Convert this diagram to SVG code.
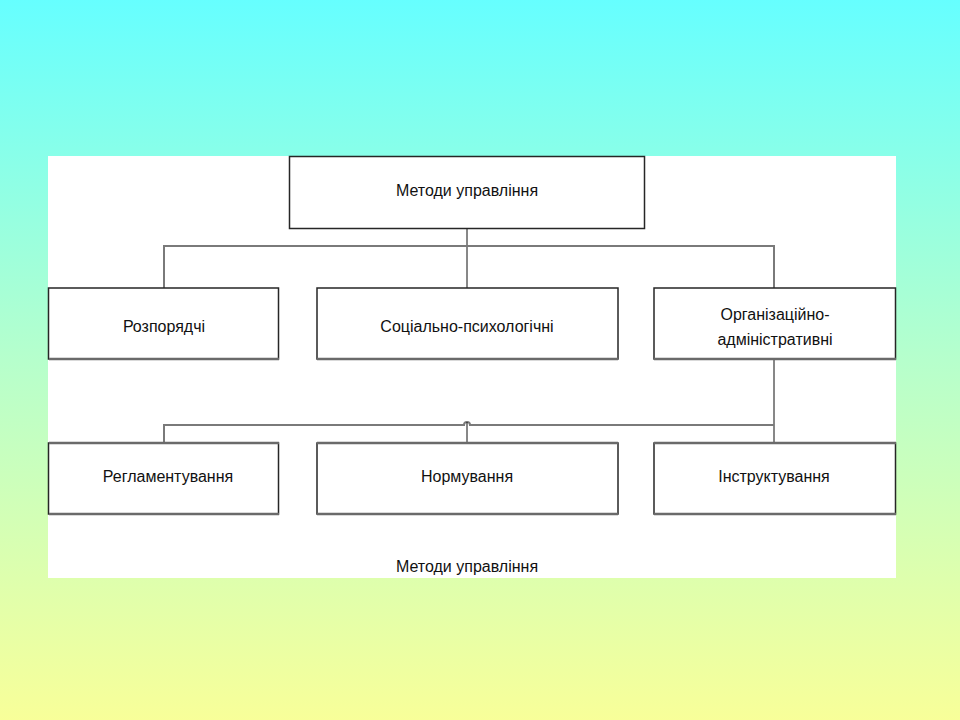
<svg xmlns="http://www.w3.org/2000/svg" width="960" height="720" viewBox="0 0 960 720">
<defs>
<linearGradient id="bg" x1="0" y1="0" x2="0" y2="1">
<stop offset="0" stop-color="#66ffff"/>
<stop offset="0.5" stop-color="#b6ffcc"/>
<stop offset="1" stop-color="#f8ff99"/>
</linearGradient>
<style>
.box{fill:#ffffff;stroke:#262626;stroke-width:1.5}
.shadow{stroke:#6a6a6a;stroke-width:2.5;fill:none}
.lbl{font-family:"Liberation Sans",Arial,sans-serif;font-size:16px;fill:#111;text-anchor:middle}
.conn{stroke:#7a7a7a;stroke-width:2;fill:none}
.thin{stroke:#111;stroke-width:1;fill:none}
</style>
</defs>
<rect x="0" y="0" width="960" height="720" fill="url(#bg)"/>
<rect x="48" y="156" width="848" height="422" fill="#ffffff"/>

<g id="connectors">
<path class="thin" d="M467,229 V288"/>
<path class="conn" d="M164,288 V246 H774 V288"/>
<path class="thin" d="M774,359 V443"/>
<path class="conn" d="M164,443 V425 H464 A3,3 0 0 1 470,425 H774"/>
<path class="thin" d="M467,422 V443"/>
</g>

<g id="node-root">
<rect class="box" x="289.5" y="156.5" width="355" height="72"/>
<text class="lbl" x="467" y="196">Методи управління</text>
</g>

<g id="node-rozporiadchi">
<rect class="box" x="48.5" y="288" width="230" height="71"/>
<line class="shadow" x1="49" y1="359" x2="279" y2="359"/>
<text class="lbl" x="164" y="332">Розпорядчі</text>
</g>

<g id="node-sotsialno">
<rect class="box" x="317" y="288" width="301" height="71"/>
<line class="shadow" x1="317" y1="359" x2="618" y2="359"/>
<text class="lbl" x="467" y="332">Соціально-психологічні</text>
</g>

<g id="node-orhanizatsiino">
<rect class="box" x="654" y="288" width="241.5" height="71"/>
<line class="shadow" x1="654" y1="359" x2="896" y2="359"/>
<text class="lbl" x="775" y="320">Організаційно-</text>
<text class="lbl" x="775" y="345">адміністративні</text>
</g>

<g id="node-rehlamentuvannia">
<rect class="box" x="48.5" y="443" width="230" height="71"/>
<line class="shadow" x1="49" y1="443" x2="279" y2="443"/>
<line class="shadow" x1="49" y1="514" x2="279" y2="514"/>
<text class="lbl" x="168" y="482">Регламентування</text>
</g>

<g id="node-normuvannia">
<rect class="box" x="317" y="443" width="301" height="71"/>
<line class="shadow" x1="317" y1="443" x2="618" y2="443"/>
<line class="shadow" x1="317" y1="514" x2="618" y2="514"/>
<text class="lbl" x="467" y="482">Нормування</text>
</g>

<g id="node-instruktuvannia">
<rect class="box" x="654" y="443" width="241.5" height="71"/>
<line class="shadow" x1="654" y1="443" x2="896" y2="443"/>
<line class="shadow" x1="654" y1="514" x2="896" y2="514"/>
<text class="lbl" x="774" y="482">Інструктування</text>
</g>

<text class="lbl" x="467" y="572">Методи управління</text>
</svg>
